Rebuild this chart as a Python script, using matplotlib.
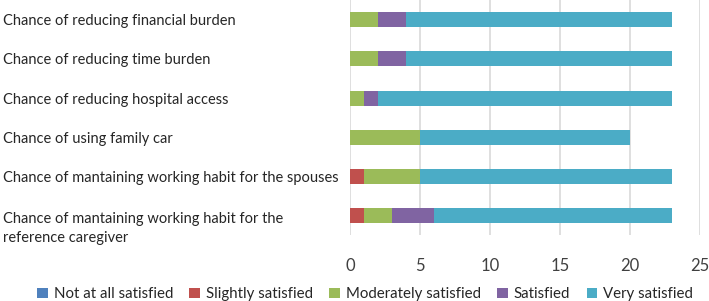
import matplotlib.pyplot as plt
import matplotlib.transforms as mtransforms
import numpy as np

plt.rcParams['font.family'] = ['Lato', 'DejaVu Sans']

categories = [
    "Chance of reducing financial burden",
    "Chance of reducing time burden",
    "Chance of reducing hospital access",
    "Chance of using family car",
    "Chance of mantaining working habit for the spouses",
    "Chance of mantaining working habit for the\nreference caregiver",
]
series_names = ["Not at all satisfied", "Slightly satisfied", "Moderately satisfied",
                "Satisfied", "Very satisfied"]
not_at_all = [0, 0, 0, 0, 0, 0]
slightly = [0, 0, 0, 0, 1, 1]
moderately = [2, 2, 1, 5, 4, 2]
satisfied = [2, 2, 1, 0, 0, 3]
very = [19, 19, 21, 15, 18, 17]
colors = ["#4f81bd", "#c0504d", "#9bbb59", "#8064a2", "#4bacc6"]

fig = plt.figure(figsize=(7.09, 3.01), dpi=100)
ax = fig.add_axes([0.494, 0.218, 0.493, 0.782])

y = np.arange(len(categories))
left = np.zeros(len(categories))
for name, vals, c in zip(series_names, [not_at_all, slightly, moderately, satisfied, very], colors):
    ax.barh(y, vals, left=left, height=0.38, color=c, label=name, zorder=3)
    left += np.array(vals)

ax.set_ylim(len(categories) - 0.5, -0.5)
ax.set_xlim(0, 25)
ax.set_xticks([0, 5, 10, 15, 20, 25])
ax.grid(axis='x', color='#d9d9d9', linewidth=1.2, zorder=0)
for s in ax.spines.values():
    s.set_visible(False)
ax.set_yticks(y)
ax.set_yticklabels(categories, ha='left', fontsize=10.5, color='#262626', linespacing=1.45)
ax.tick_params(axis='y', length=0, pad=250)
ax.tick_params(axis='x', length=0, labelsize=12, labelcolor='#404040', pad=16)

# two-line label sits a bit lower in the original
lbl = ax.get_yticklabels()[-1]
lbl.set_transform(lbl.get_transform() + mtransforms.ScaledTranslation(0, -6 / 72, fig.dpi_scale_trans))

fig.legend(loc='lower center', bbox_to_anchor=(0.515, -0.045), ncol=5, frameon=False,
           fontsize=10.8, handlelength=0.7, handleheight=0.7, handletextpad=0.4,
           columnspacing=1.1, labelcolor='#262626')

fig.savefig("out.png", dpi=100)
